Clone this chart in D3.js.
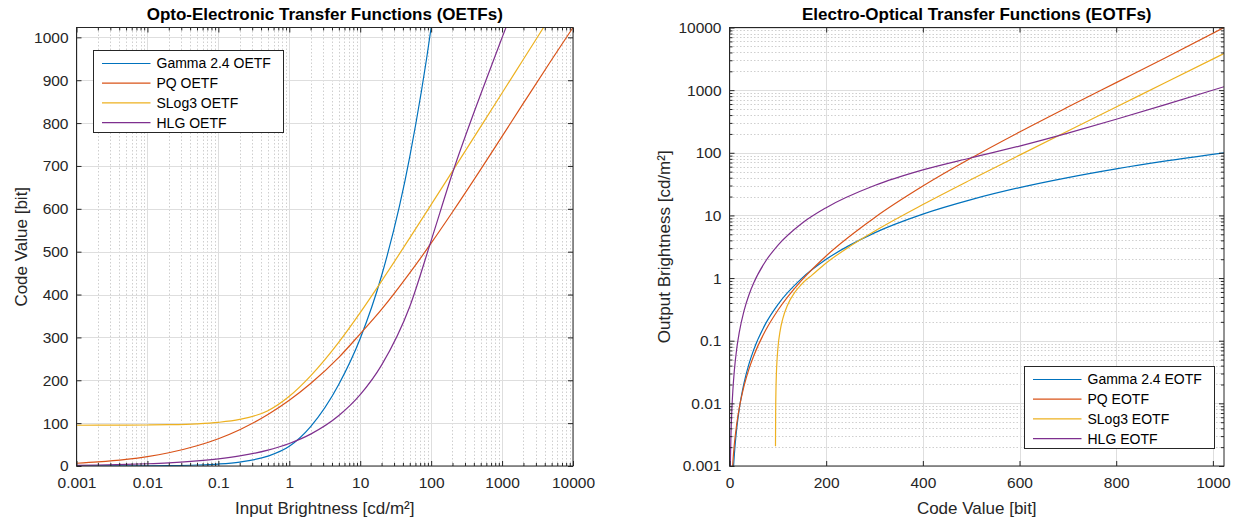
<!DOCTYPE html>
<html>
<head>
<meta charset="utf-8">
<script src="https://cdn.jsdelivr.net/npm/d3@7"></script>
<style>
  body { margin: 0; background: #fff; }
  text { font-family: "Liberation Sans", Arial, sans-serif; }
</style>
</head>
<body>
<svg id="chart" width="1239" height="521"></svg>
<script>
// ---- data ----

// left panel: input brightness (cd/m²) -> 10-bit code value
const inputNits = [0.001, 0.002, 0.005, 0.01, 0.02, 0.05, 0.1, 0.2, 0.5, 1, 2, 5, 10, 20, 50, 100, 200, 500, 1000, 2000, 5000, 10000];
const gammaOetf = [0.046, 0.092, 0.23, 0.46, 0.92, 2.3, 4.6, 9.2, 23.0, 46.0, 92.1, 190.8, 297.6, 443.8, 721.7, 1023, 1434, null, null, null, null, null];
const pqOetf    = [6.44, 9.46, 15.42, 21.97, 30.88, 47.14, 63.7, 84.75, 120.1, 153.4, 192.6, 253.5, 308.3, 365.2, 450.4, 519.8, 592.5, 692.0, 769.1, 846.4, 947.8, 1023];
const slog3Oetf = [95.07, 95.14, 95.34, 95.68, 96.35, 98.39, 101.8, 108.6, 128.9, 162.7, 210.4, 289.1, 357.9, 431.4, 532.1, 609.7, 687.9, 791.6, 870.2, 948.9, 1052.9, 1131.6];
const hlgOetf   = [1.66, 2.35, 3.72, 5.26, 7.44, 11.77, 16.64, 23.53, 37.21, 52.62, 74.41, 117.7, 166.4, 235.3, 372.1, 525.8, 683.5, 867.4, 999.4, 1128.7, null, null];

// right panel: code value -> output brightness (cd/m²)
const eotfCode  = [1, 2, 3, 5, 7, 10, 15, 20, 30, 40, 50, 75, 100, 150, 200, 300, 400, 500, 600, 700, 800, 900, 1023];
const gammaEotf = [null, null, null, 0.000285, 0.000637, 0.0015, 0.00397, 0.00792, 0.021, 0.0418, 0.0714, 0.189, 0.377, 0.998, 1.99, 5.27, 10.5, 17.9, 27.8, 40.2, 55.4, 73.5, 100];
const pqEotf    = [null, null, null, 0.000636, 0.00116, 0.00221, 0.00473, 0.00827, 0.0188, 0.0348, 0.0571, 0.148, 0.306, 0.937, 2.26, 9.2, 29.4, 82.4, 214.6, 537, 1320, 3240, 10000];
const hlgEotf   = [0.000333, 0.00133, 0.0030, 0.00833, 0.0163, 0.0333, 0.075, 0.133, 0.30, 0.533, 0.833, 1.875, 3.33, 7.5, 13.3, 30.0, 53.3, 83.3, 128.0, 206.1, 342.8, 581.9, 1134];
// SLog3 only starts just above code 95
const slog3EotfCode = [95.14, 95.5, 96, 97, 98, 100, 105, 110, 120, 135, 150, 171.2, 200, 250, 300, 400, 500, 600, 700, 800, 900, 1023];
const slog3Eotf     = [0.00207, 0.00738, 0.0148, 0.0295, 0.0443, 0.0738, 0.148, 0.221, 0.369, 0.590, 0.812, 1.125, 1.74, 3.25, 5.60, 14.9, 37.4, 91.7, 223, 538, 1300, 3841];

const oetfNames = ['Gamma 2.4 OETF', 'PQ OETF', 'SLog3 OETF', 'HLG OETF'];
const eotfNames = ['Gamma 2.4 EOTF', 'PQ EOTF', 'SLog3 EOTF', 'HLG EOTF'];

// tick values
const nitDecades = [0.001, 0.01, 0.1, 1, 10, 100, 1000, 10000];
const codeTicksY = [0, 100, 200, 300, 400, 500, 600, 700, 800, 900, 1000];
const codeTicksX = [0, 200, 400, 600, 800, 1000];

// MATLAB default line colours
const colors = ['#0072BD', '#D95319', '#EDB120', '#7E2F8E'];

// ---- drawing ----
const svg = d3.select('#chart');
const ink = '#262626';

// 2..9 within each decade
function minorLog(lo, hi) {
  const out = [];
  for (let d = lo; d < hi; d *= 10) {
    for (let k = 2; k < 10; k++) out.push(+(k * d).toPrecision(3));
  }
  return out;
}

function zip(xs, ys) {
  return xs.map((x, i) => ({ x: x, v: ys[i] }));
}

const panels = [
  {
    id: 'oetf',
    title: 'Opto-Electronic Transfer Functions (OETFs)',
    xLabel: 'Input Brightness [cd/m²]',
    yLabel: 'Code Value [bit]',
    box: { left: 76.5, right: 573, top: 27.5, bottom: 466 },
    x: d3.scaleLog().domain([0.001, 10000]),
    y: d3.scaleLinear().domain([0, 1023]),
    xTicks: nitDecades,
    yTicks: codeTicksY,
    xMinor: minorLog(0.001, 10000),
    yMinor: [],
    series: [
      zip(inputNits, gammaOetf),
      zip(inputNits, pqOetf),
      zip(inputNits, slog3Oetf),
      zip(inputNits, hlgOetf),
    ],
    names: oetfNames,
    legend: { x: 93.5, y: 50.5 },
    yLabelX: 21,
  },
  {
    id: 'eotf',
    title: 'Electro-Optical Transfer Functions (EOTFs)',
    xLabel: 'Code Value [bit]',
    yLabel: 'Output Brightness [cd/m²]',
    box: { left: 729.5, right: 1224, top: 27.5, bottom: 466 },
    x: d3.scaleLinear().domain([0, 1023]),
    y: d3.scaleLog().domain([0.001, 10000]),
    xTicks: codeTicksX,
    yTicks: nitDecades,
    xMinor: [],
    yMinor: minorLog(0.001, 10000),
    series: [
      zip(eotfCode, gammaEotf),
      zip(eotfCode, pqEotf),
      zip(slog3EotfCode, slog3Eotf),
      zip(eotfCode, hlgEotf),
    ],
    names: eotfNames,
    legend: { x: 1024.5, y: 366.5 },
    yLabelX: 664,
  },
];

panels.forEach(p => {
  const b = p.box;
  p.x.range([b.left, b.right]);
  p.y.range([b.bottom, b.top]);
  const g = svg.append('g');

  g.append('rect')
    .attr('x', b.left).attr('y', b.top)
    .attr('width', b.right - b.left).attr('height', b.bottom - b.top)
    .attr('fill', '#fff');

  // minor grid (dotted)
  const px = v => Math.round(v) + 0.5;
  g.append('g').selectAll('line').data(p.xMinor).join('line')
    .attr('x1', d => px(p.x(d))).attr('x2', d => px(p.x(d)))
    .attr('y1', b.top).attr('y2', b.bottom)
    .attr('stroke', '#cfcfcf').attr('stroke-dasharray', '1.5,2');
  g.append('g').selectAll('line').data(p.yMinor).join('line')
    .attr('y1', d => px(p.y(d))).attr('y2', d => px(p.y(d)))
    .attr('x1', b.left).attr('x2', b.right)
    .attr('stroke', '#cfcfcf').attr('stroke-dasharray', '1.5,2');

  // major grid
  g.append('g').selectAll('line').data(p.xTicks).join('line')
    .attr('x1', d => px(p.x(d))).attr('x2', d => px(p.x(d)))
    .attr('y1', b.top).attr('y2', b.bottom)
    .attr('stroke', '#dedede');
  g.append('g').selectAll('line').data(p.yTicks).join('line')
    .attr('y1', d => px(p.y(d))).attr('y2', d => px(p.y(d)))
    .attr('x1', b.left).attr('x2', b.right)
    .attr('stroke', '#dedede');

  // curves
  g.append('clipPath').attr('id', 'clip-' + p.id)
    .append('rect')
    .attr('x', b.left).attr('y', b.top)
    .attr('width', b.right - b.left).attr('height', b.bottom - b.top);

  const line = d3.line()
    .defined(d => d.v != null)
    .x(d => p.x(d.x))
    .y(d => p.y(d.v))
    .curve(d3.curveMonotoneX);

  g.append('g').attr('clip-path', `url(#clip-${p.id})`)
    .selectAll('path').data(p.series).join('path')
    .attr('d', line)
    .attr('fill', 'none')
    .attr('stroke', (d, i) => colors[i])
    .attr('stroke-width', 1.2);

  // axes: inward ticks on all four sides
  const fmt = d => String(d);
  const styleAxis = sel => {
    sel.select('.domain').remove();
    sel.selectAll('line').attr('stroke', ink);
    sel.selectAll('text').attr('fill', ink).attr('font-size', 15.5)
      .attr('font-family', '"Liberation Sans", Arial, sans-serif');
  };
  g.append('g').attr('transform', `translate(0,${b.bottom})`)
    .call(d3.axisBottom(p.x).tickValues(p.xTicks).tickFormat(fmt).tickSize(-5).tickPadding(11))
    .call(styleAxis);
  g.append('g').attr('transform', `translate(0,${b.top})`)
    .call(d3.axisTop(p.x).tickValues(p.xTicks).tickFormat('').tickSize(-5))
    .call(styleAxis);
  g.append('g').attr('transform', `translate(${b.left},0)`)
    .call(d3.axisLeft(p.y).tickValues(p.yTicks).tickFormat(fmt).tickSize(-5).tickPadding(8))
    .call(styleAxis);
  g.append('g').attr('transform', `translate(${b.right},0)`)
    .call(d3.axisRight(p.y).tickValues(p.yTicks).tickFormat('').tickSize(-5))
    .call(styleAxis);

  // minor ticks
  if (p.xMinor.length) {
    g.append('g').attr('transform', `translate(0,${b.bottom})`)
      .call(d3.axisBottom(p.x).tickValues(p.xMinor).tickFormat('').tickSize(-3))
      .call(styleAxis);
    g.append('g').attr('transform', `translate(0,${b.top})`)
      .call(d3.axisTop(p.x).tickValues(p.xMinor).tickFormat('').tickSize(-3))
      .call(styleAxis);
  }
  if (p.yMinor.length) {
    g.append('g').attr('transform', `translate(${b.left},0)`)
      .call(d3.axisLeft(p.y).tickValues(p.yMinor).tickFormat('').tickSize(-3))
      .call(styleAxis);
    g.append('g').attr('transform', `translate(${b.right},0)`)
      .call(d3.axisRight(p.y).tickValues(p.yMinor).tickFormat('').tickSize(-3))
      .call(styleAxis);
  }

  // box
  g.append('rect')
    .attr('x', b.left).attr('y', b.top)
    .attr('width', b.right - b.left).attr('height', b.bottom - b.top)
    .attr('fill', 'none').attr('stroke', ink).attr('stroke-width', 1);

  // title and axis labels
  const cx = (b.left + b.right) / 2;
  g.append('text')
    .attr('x', cx).attr('y', 20)
    .attr('text-anchor', 'middle')
    .attr('font-size', 17).attr('font-weight', 'bold')
    .attr('fill', '#000')
    .text(p.title);
  g.append('text')
    .attr('x', cx).attr('y', 514)
    .attr('text-anchor', 'middle')
    .attr('font-size', 17)
    .attr('fill', ink)
    .text(p.xLabel);
  g.append('text')
    .attr('transform', `translate(${p.yLabelX},${(b.top + b.bottom) / 2}) rotate(-90)`)
    .attr('text-anchor', 'middle')
    .attr('dy', '0.35em')
    .attr('font-size', 17)
    .attr('fill', ink)
    .text(p.yLabel);

  // legend
  const lg = g.append('g').attr('transform', `translate(${p.legend.x},${p.legend.y})`);
  lg.append('rect')
    .attr('width', 190).attr('height', 82)
    .attr('fill', '#fff').attr('stroke', ink).attr('stroke-width', 1);
  const rows = lg.selectAll('g.row').data(p.names).join('g')
    .attr('class', 'row')
    .attr('transform', (d, i) => `translate(0,${13 + i * 19.7})`);
  rows.append('line')
    .attr('x1', 8.5).attr('x2', 57)
    .attr('stroke', (d, i) => colors[i])
    .attr('stroke-width', 1.2);
  rows.append('text')
    .attr('x', 63).attr('dy', '0.35em')
    .attr('font-size', 14)
    .attr('fill', '#000')
    .text(d => d);
});
</script>
</body>
</html>
